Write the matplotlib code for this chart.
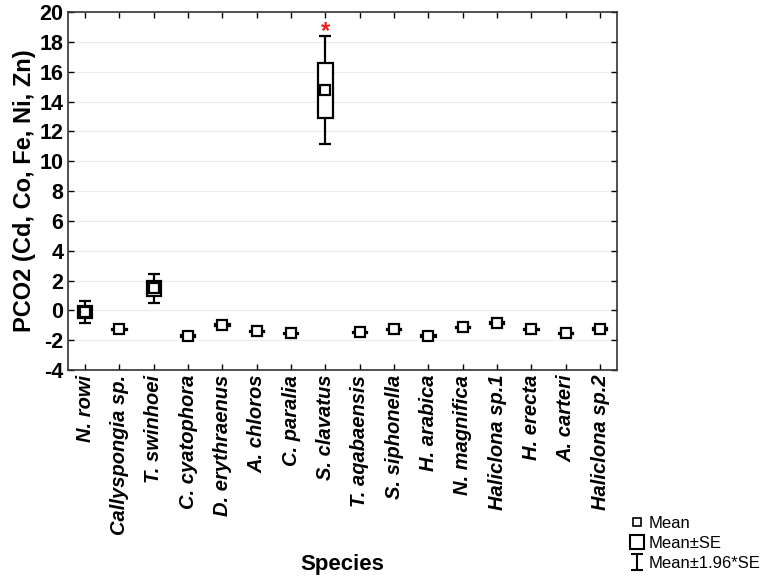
import matplotlib.pyplot as plt
from matplotlib.lines import Line2D
from matplotlib.path import Path

plt.rcParams['font.family'] = ['Liberation Sans', 'DejaVu Sans']
plt.rcParams['axes.unicode_minus'] = False

species = ['N. rowi', 'Callyspongia sp.', 'T. swinhoei', 'C. cyatophora',
           'D. erythraenus', 'A. chloros', 'C. paralia', 'S. clavatus',
           'T. aqabaensis', 'S. siphonella', 'H. arabica', 'N. magnifica',
           'Haliclona sp.1', 'H. erecta', 'A. carteri', 'Haliclona sp.2']
means = [-0.12, -1.27, 1.48, -1.73, -0.98, -1.41, -1.55, 14.75,
         -1.48, -1.27, -1.71, -1.14, -0.86, -1.27, -1.55, -1.25]
se = [0.38, 0.05, 0.50, 0.05, 0.05, 0.05, 0.05, 1.85,
      0.05, 0.05, 0.05, 0.05, 0.05, 0.05, 0.05, 0.05]
signif = ['S. clavatus']

fig = plt.figure(figsize=(7.64, 5.79), dpi=100)
ax = fig.add_axes([0.089, 0.361, 0.719, 0.618])

x = list(range(len(species)))
for i in x:
    m, s = means[i], se[i]
    ci = 1.96 * s
    # whiskers
    ax.errorbar(i, m, yerr=ci, fmt='none', ecolor='black', elinewidth=1.6,
                capsize=4, capthick=1.6, zorder=2)
    # SE box
    ax.bar(i, 2 * s, bottom=m - s, width=0.42, facecolor='white',
           edgecolor='black', linewidth=1.6, zorder=3)
    # mean marker
    ax.plot(i, m, marker='s', ms=7.5, mfc='white', mec='black', mew=1.6,
            ls='none', zorder=4)
    if species[i] in signif:
        ax.text(i, m + ci + 0.3, '*', color='#e8201c', ha='center',
                va='center', fontsize=17, fontweight='bold')

ax.set_xlim(-0.5, len(species) - 0.5)
ax.set_ylim(-4, 20)
ax.set_yticks(range(-4, 21, 2))
ax.set_xticks(x)
ax.set_xticklabels(species, rotation=90, fontsize=14.5, fontweight='bold',
                   fontstyle='italic')
ax.tick_params(axis='y', labelsize=15.5)
for lab in ax.get_yticklabels():
    lab.set_fontweight('bold')
ax.tick_params(direction='in', top=True, right=True, length=4, width=1)
ax.yaxis.grid(True, color='#ececec', linewidth=0.8)
ax.set_axisbelow(True)
for sp in ax.spines.values():
    sp.set_linewidth(1.2)
    sp.set_color('#333333')

ax.set_ylabel('PCO2 (Cd, Co, Fe, Ni, Zn)', fontsize=17, fontweight='bold')
ax.yaxis.set_label_coords(-0.059, 0.5)
ax.set_xlabel('Species', fontsize=16, fontweight='bold', labelpad=14)

ibeam = Path([(-0.7, -1), (0.7, -1), (0, -1), (0, 1), (-0.7, 1), (0.7, 1)],
             [Path.MOVETO, Path.LINETO, Path.MOVETO, Path.LINETO,
              Path.MOVETO, Path.LINETO])
handles = [
    Line2D([], [], marker='s', ms=6, mfc='white', mec='black', mew=1.2, ls='none'),
    Line2D([], [], marker='s', ms=10, mfc='white', mec='black', mew=1.5, ls='none'),
    Line2D([], [], marker=ibeam, ms=12, mec='black', mew=1.5, ls='none'),
]
fig.legend(handles, ['Mean', 'Mean\u00b1SE', 'Mean\u00b11.96*SE'],
           loc='lower left', bbox_to_anchor=(0.812, -0.004), frameon=False,
           fontsize=12, handlelength=0.8, handletextpad=0.3,
           labelspacing=0.3, borderpad=0.1)

fig.savefig('out.png', dpi=100)
